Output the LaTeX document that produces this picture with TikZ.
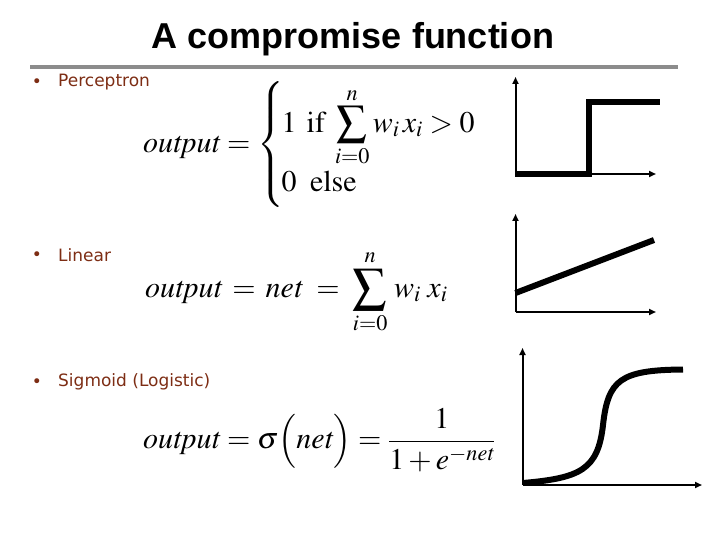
\documentclass[tikz,border=0pt]{standalone}
\usepackage{mathptmx}
\usepackage{graphicx}
\usepackage[no-math]{fontspec}
\newfontfamily\titlefont{Liberation Sans}
\newfontfamily\bodyfont{DejaVu Sans}
\usetikzlibrary{arrows.meta}
\definecolor{bulletbrown}{RGB}{125,45,20}
\definecolor{rulegray}{RGB}{140,140,140}
\newcommand{\bigsumlim}{\mathop{\vcenter{\hbox{\scalebox{1.12}{$\displaystyle\sum$}}}}\limits}
\tikzset{
  axisline/.style={line width=2pt, -{Triangle[length=7pt,width=6pt]}},
  curveline/.style={line width=6pt, line join=miter},
  bulletlabel/.style={anchor=west, inner sep=0pt, text=bulletbrown, font=\bodyfont\fontsize{17}{20}\selectfont},
  bulletdot/.style={inner sep=0pt, text=bulletbrown, font=\bodyfont\fontsize{17}{20}\selectfont},
  formula/.style={anchor=west, inner sep=0pt, font=\fontsize{30}{36}\selectfont}
}
\begin{document}
\begin{tikzpicture}[x=1pt,y=-1pt]
\useasboundingbox (0,0) rectangle (720,540);
% title
\node[inner sep=0pt, font=\titlefont\bfseries\fontsize{36}{40}\selectfont] (title) at (353,39) {A compromise function};
\fill[rulegray] (30,65) rectangle (678,69);
% bullets
\node[bulletdot] (b1) at (37,83) {•};
\node[bulletlabel] (l1) at (58,82) {Perceptron};
\node[bulletdot] (b2) at (37,256) {•};
\node[bulletlabel] (l2) at (58,255) {Linear};
\node[bulletdot] (b3) at (37,383) {•};
\node[bulletlabel] (l3) at (58,382) {Sigmoid (Logistic)};
% formulas
\node[formula] (f1) at (143,145) {$\mathit{output} = \left\{\kern-2pt\begin{array}{@{}l@{}} 1\;\,\mathrm{if}\;\displaystyle\sum_{i=0}^{n} w_{i}\,x_{i} > 0 \\[7pt] 0\;\;\mathrm{else}\end{array}\right.$};
\node[formula] (f2) at (145,292) {$\mathit{output} \mathrel{\,=\,} \mathit{net} \mathrel{\;=\;} \bigsumlim_{i=0}^{n}\, w_{i}\;x_{i}$};
\node[formula] (f3) at (143,440) {$\mathit{output} = \sigma\Bigl(\mathit{net}\Bigr) = {\displaystyle\frac{1}{1+e^{-\mathit{net}}}}$};
% plot 1: step
\coordinate (o1) at (515.5,174);
\draw[axisline] (o1) -- (515.5,77);
\draw[axisline] (o1) -- (656,174);
\draw[curveline] (515,174.5) -- (588.5,174.5) -- (588.5,102) -- (660,102);
% plot 2: linear
\coordinate (o2) at (515.5,312);
\draw[axisline] (o2) -- (515.5,214);
\draw[axisline] (o2) -- (656,312);
\draw[curveline] (515.5,293) -- (654,240);
% plot 3: sigmoid
\coordinate (o3) at (522.5,485);
\draw[axisline] (o3) -- (522.5,348);
\draw[axisline] (o3) -- (702,485);
\draw[curveline, line cap=butt] (523,483) .. controls (580,478) and (598,470) .. (603,425) .. controls (608,380) and (620,370) .. (683,369.5);
\end{tikzpicture}
\end{document}
